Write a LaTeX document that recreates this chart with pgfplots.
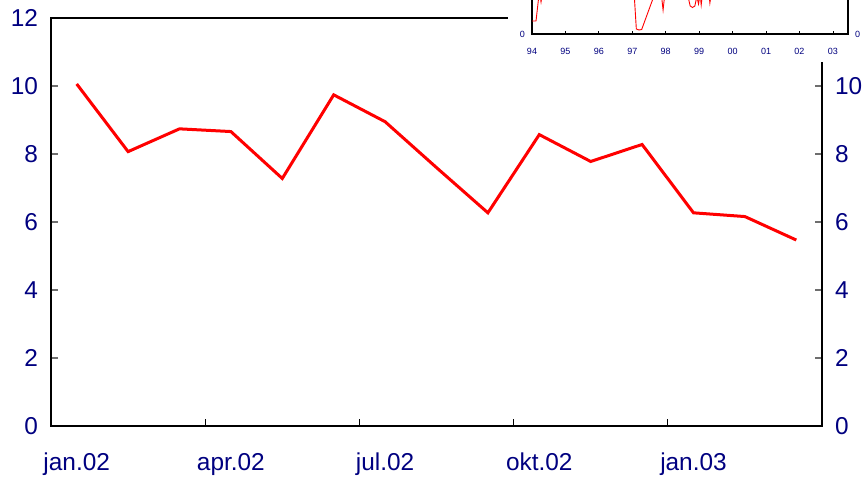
\documentclass[border=0pt]{standalone}
\usepackage{pgfplots}
\pgfplotsset{compat=1.18}
\usepackage{fontspec}
\setmainfont{Liberation Sans}
\definecolor{navy}{RGB}{0,0,128}
\definecolor{tickgray}{RGB}{110,110,110}

\begin{document}
\begin{tikzpicture}
\useasboundingbox (-25.5pt,-25.5pt) rectangle (408.5pt,213pt);
\clip (-25.5pt,-25.5pt) rectangle (408.5pt,213pt);

\pgfplotsset{mainax/.style={
    at={(0,0)}, anchor=south west,
    scale only axis, width=385.5pt, height=204pt,
    xmin=0, xmax=15, ymin=0, ymax=12,
    ytick={0,2,...,12},
    tick align=inside,
    major tick length=3.5pt,
    y tick style={tickgray, line width=0.8pt},
    x tick style={black, line width=0.5pt},
    ticklabel style={font=\fontsize{12.2}{14}\selectfont, text=navy},
    /pgf/number format/assume math mode=true,
    axis line style={black, line width=1pt},
}}

\begin{axis}[mainax,
    xtick={0,3,6,9,12},
    xticklabels={jan.02, apr.02, jul.02, okt.02, jan.03},
    xticklabel style={xshift=12.85pt, yshift=-10pt},
    xtick pos=bottom,
    ytick pos=both,
    yticklabel pos=left,
    yticklabel style={xshift=-3pt},
]
\addplot[red, line width=1.5pt] coordinates {
(0.5,10.06) (1.5,8.07) (2.5,8.74) (3.5,8.66) (4.5,7.28)
(5.5,9.74) (6.5,8.95) (7.5,7.6) (8.5,6.27) (9.5,8.57)
(10.5,7.78) (11.5,8.28) (12.5,6.27) (13.5,6.16) (14.5,5.47)
};
\end{axis}

\begin{axis}[mainax,
    hide x axis,
    axis y line*=right,
    axis line style={draw=none},
    major tick length=0pt,
    ytick={0,2,...,10},
    yticklabel style={xshift=3pt},
]
\addplot[draw=none] coordinates {(0,0)};
\end{axis}

% inset
\fill[white] (228.5pt,182pt) rectangle (420pt,230pt);

\begin{axis}[
    at={(240.5pt,196pt)}, anchor=south west,
    scale only axis, width=158pt, height=30pt,
    xmin=1994, xmax=2003.45, ymin=0, ymax=12,
    xtick={1994,...,2003},
    xticklabels={94,95,96,97,98,99,00,01,02,03},
    ytick={0},
    tick align=inside,
    major tick length=1.5pt,
    tick style={black, line width=0.4pt},
    xtick pos=bottom,
    ytick pos=left,
    ticklabel style={font=\fontsize{4.5}{5}\selectfont, text=navy},
    xticklabel style={yshift=-3.5pt},
    /pgf/number format/assume math mode=true,
    axis line style={black, line width=0.7pt},
]
\addplot[red, line width=0.45pt] coordinates {
(1994.00,2.6) (1994.12,2.6) (1994.22,8.5) (1994.27,6.4) (1994.33,9)
(1994.6,10) (1995.0,9.5) (1995.5,10.5) (1996.0,9) (1996.5,10)
(1996.9,9) (1997.06,7.5) (1997.12,1.0) (1997.2,0.8) (1997.28,0.9)
(1997.57,6.2) (1997.7,8.5) (1997.85,9) (1997.92,4.8) (1997.98,8.5)
(1998.3,9) (1998.65,8) (1998.73,5.6) (1998.8,5.3) (1998.87,5.6)
(1998.93,7.5) (1998.98,6.0) (1999.03,8) (1999.06,5.8) (1999.1,8)
(1999.3,7.5) (1999.32,6.2) (1999.36,8) (1999.6,9) (2000.0,10)
(2000.5,9.5) (2001.0,10) (2001.5,9) (2002.0,9.5) (2002.5,9) (2003.3,8.5)
};
\end{axis}
\begin{axis}[
    at={(240.5pt,196pt)}, anchor=south west,
    scale only axis, width=158pt, height=30pt,
    xmin=1994, xmax=2003.45, ymin=0, ymax=12,
    hide x axis, axis y line*=right,
    axis line style={draw=none},
    ytick={0},
    major tick length=0pt,
    ticklabel style={font=\fontsize{4.5}{5}\selectfont, text=navy},
    /pgf/number format/assume math mode=true,
]
\addplot[draw=none] coordinates {(1994,0)};
\end{axis}
\end{tikzpicture}
\end{document}
